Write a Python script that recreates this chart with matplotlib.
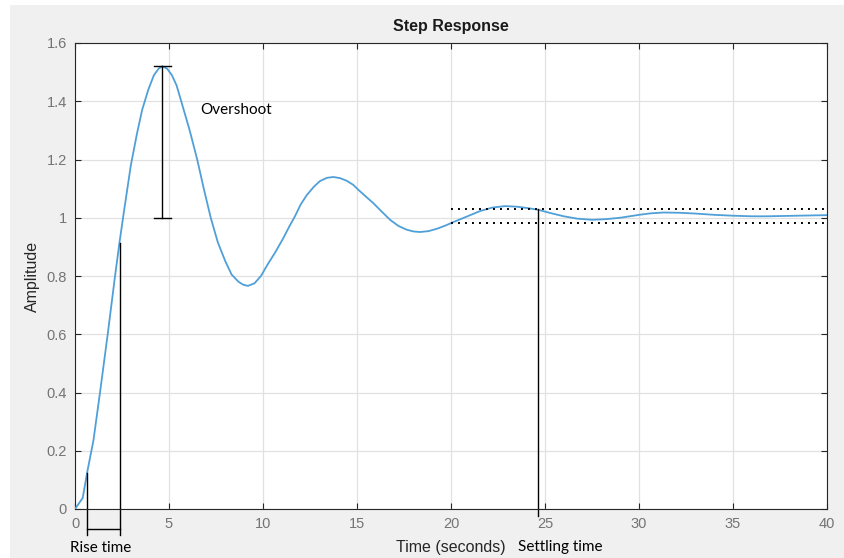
import matplotlib.pyplot as plt
from matplotlib.patches import Rectangle

# step response
t = [0, 0.41, 0.66, 0.98, 1.33, 1.74, 2.13, 2.36, 2.6, 2.97, 3.3, 3.57, 3.9, 4.2, 4.45,
     4.65, 4.9, 5.15, 5.4, 5.65, 6.1, 6.5, 6.85, 7.22, 7.6, 8.0, 8.33, 8.7, 8.95, 9.2, 9.55,
     9.89, 10.25, 10.64, 11.08, 11.4, 11.7, 12.0, 12.32, 12.7, 13.03, 13.4, 13.74, 14.1,
     14.45, 14.8, 15.07, 15.45, 15.87, 16.3, 16.76, 17.2, 17.64, 18.0, 18.35, 18.8, 19.24,
     19.7, 20.12, 20.8, 21.55, 22.2, 22.88, 23.5, 24.1, 24.66, 25.3, 26.0,
     26.7, 27.5, 28.2, 29.0, 30.0, 30.6, 31.3, 32.2, 33.1, 34.0, 35.0, 36.0, 36.8, 38.4, 40.0]
amp = [0, 0.038, 0.13, 0.235, 0.40, 0.60, 0.80, 0.912, 1.02, 1.18, 1.29, 1.37, 1.44, 1.49, 1.512,
       1.52, 1.512, 1.49, 1.455, 1.40, 1.30, 1.20, 1.10, 1.0, 0.915, 0.85, 0.805, 0.78, 0.77, 0.766, 0.775,
       0.80, 0.84, 0.88, 0.93, 0.97, 1.005, 1.045, 1.077, 1.106, 1.126, 1.137, 1.14, 1.136,
       1.127, 1.113, 1.096, 1.074, 1.05, 1.022, 0.993, 0.972, 0.959, 0.953, 0.951, 0.954, 0.962,
       0.973, 0.985, 1.003, 1.023, 1.035, 1.04, 1.038, 1.033, 1.027, 1.016, 1.005,
       0.997, 0.993, 0.995, 1.0, 1.010, 1.015, 1.018, 1.017, 1.014, 1.01, 1.007, 1.005, 1.005, 1.007, 1.009]

# annotation values
peak_t, peak_amp, final_amp = 4.65, 1.52, 1.0
rise_t = [0.65, 2.39]
rise_amp = [0.125, 0.912]
settle_t, settle_amp = 24.64, 1.03
band = [1.03, 0.982]
band_start = 20

xticks = [0, 5, 10, 15, 20, 25, 30, 35, 40]
yticks = [0, 0.2, 0.4, 0.6, 0.8, 1.0, 1.2, 1.4, 1.6]
ylabels = ['0', '0.2', '0.4', '0.6', '0.8', '1', '1.2', '1.4', '1.6']

plt.rcParams['font.family'] = ['Liberation Sans', 'DejaVu Sans']

fig = plt.figure(figsize=(8.44, 5.58), dpi=100, facecolor='white')
fig.patches.append(Rectangle((10 / 844, 0), 1, 553 / 558, transform=fig.transFigure,
                             facecolor='#f0f0f0', edgecolor='none', zorder=-1))
ax = fig.add_axes([75 / 844, 49 / 558, 752 / 844, 466 / 558])
ax.set_facecolor('white')

ax.plot(t, amp, color='#4fa0d8', lw=1.3, zorder=3)

# overshoot bar
ax.plot([peak_t, peak_t], [final_amp, peak_amp], color='black', lw=1, zorder=4)
for yy in [final_amp, peak_amp]:
    ax.plot([peak_t - 0.45, peak_t + 0.45], [yy, yy], color='black', lw=1, zorder=4)
ax.text(6.65, 1.37, 'Overshoot', fontsize=11, family='Lato', va='center')

# rise time
tr = ax.get_xaxis_transform()
for rt, ra in zip(rise_t, rise_amp):
    ax.plot([rt, rt], [ra, 0], color='black', lw=1, zorder=4)
    ax.plot([rt, rt], [0, -0.056], color='black', lw=1, transform=tr, clip_on=False)
ax.plot(rise_t, [-0.043, -0.043], color='black', lw=1, transform=tr, clip_on=False)
ax.text(-0.007, -0.084, 'Rise time', fontsize=11, family='Lato', va='center',
        transform=ax.transAxes)

# settling time
ax.plot([settle_t, settle_t], [settle_amp, 0], color='black', lw=1, zorder=4)
ax.plot([settle_t, settle_t], [0, -0.016], color='black', lw=1, transform=tr, clip_on=False)
for b in band:
    ax.plot([band_start, 40], [b, b], color='black', lw=1.4, ls=(0, (1, 2.6)), zorder=4)
ax.text(23.56, -0.082, 'Settling time', fontsize=11, family='Lato', va='center',
        transform=tr)

ax.set_xlim(0, 40)
ax.set_ylim(0, 1.6)
ax.set_xticks(xticks)
ax.set_yticks(yticks)
ax.set_yticklabels(ylabels)
ax.grid(True, color='#e1e1e1', lw=0.9)
ax.set_axisbelow(True)
ax.tick_params(direction='in', top=True, right=True, length=4, width=0.8,
               colors='#262626', labelcolor='#747474', labelsize=10.5, pad=6)
for s in ax.spines.values():
    s.set_color('#262626')
    s.set_linewidth(0.8)

ax.set_title('Step Response', fontsize=11.5, fontweight='bold', pad=9, color='#1a1a1a')
ax.set_xlabel('Time (seconds)', fontsize=11.5, color='#262626')
ax.xaxis.set_label_coords(0.5, -0.067)
ax.set_ylabel('Amplitude', fontsize=11.5, color='#262626')
ax.yaxis.set_label_coords(-0.047, 0.5)

fig.savefig('out.png', dpi=100, facecolor=fig.get_facecolor())
